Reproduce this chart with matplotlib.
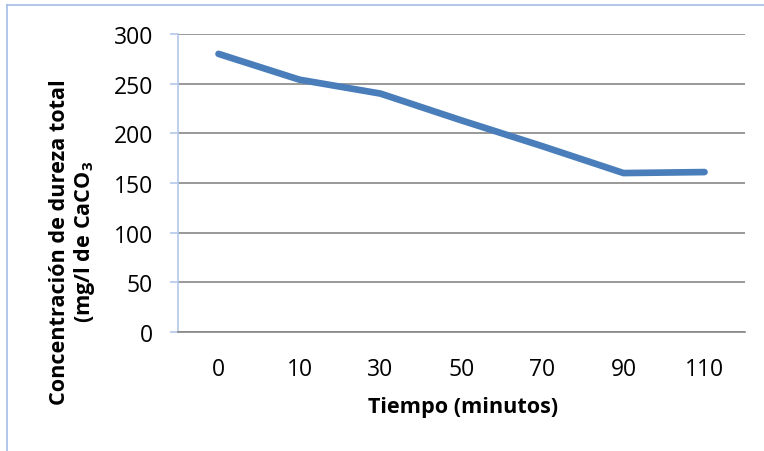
import matplotlib.pyplot as plt
from matplotlib.lines import Line2D

tiempo = ['0', '10', '30', '50', '70', '90', '110']
dureza = [280, 254, 240, 213, 187, 160, 161]
y_ticks = [0, 50, 100, 150, 200, 250, 300]

plt.rcParams['font.family'] = ['Open Sans', 'DejaVu Sans']

fig = plt.figure(figsize=(7.64, 4.52), dpi=100)
W, H = 764, 452

# chart border (only left and top visible in the original)
fig.add_artist(Line2D([7 / W, 7 / W], [0, 1 - 6 / H], color='#A4BDE8', lw=1.2))
fig.add_artist(Line2D([7 / W, 1], [1 - 6 / H, 1 - 6 / H], color='#A4BDE8', lw=1.2))

ax = fig.add_axes([178 / W, 1 - 333 / H, (745 - 178) / W, (333 - 35) / H])

x = range(len(tiempo))
ax.plot(x, dureza, color='#4A7EBB', lw=4.8, solid_capstyle='round', solid_joinstyle='round', zorder=3)

ax.set_xlim(-0.5, len(tiempo) - 0.5)
ax.set_ylim(0, 300)
ax.set_yticks(y_ticks)
ax.set_xticks(list(x))
ax.set_xticklabels(tiempo)

ax.grid(axis='y', color='#878787', lw=1.2)
ax.set_axisbelow(True)
for s in ['top', 'right']:
    ax.spines[s].set_visible(False)
ax.spines['left'].set_color('#B4C8EA')
ax.spines['left'].set_linewidth(1.2)
ax.spines['bottom'].set_color('#878787')
ax.spines['bottom'].set_linewidth(1.2)

ax.tick_params(axis='y', length=6, color='#B4C8EA', width=1.2, pad=12, labelsize=16.5)
ax.tick_params(axis='x', length=0, pad=18, labelsize=16.5)

fig.text(73 / W, 1 - 242 / H,
         'Concentración de dureza total\n(mg/l de CaCO$\\mathregular{_3}$',
         rotation=90, ha='center', va='center', multialignment='center',
         fontsize=15.6, fontweight='bold', linespacing=1.12)

fig.text(463 / W, 1 - 408 / H, 'Tiempo (minutos)', ha='center', va='center',
         fontsize=15.6, fontweight='bold')

fig.savefig('out.png', dpi=100)
